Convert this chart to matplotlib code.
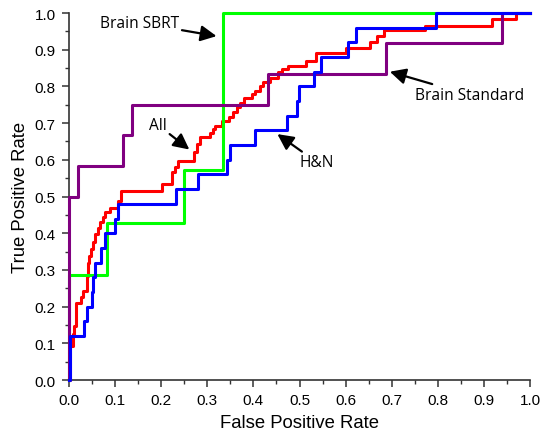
import matplotlib
matplotlib.use("Agg")
import matplotlib.pyplot as plt
from matplotlib.ticker import MultipleLocator

# ROC vertices: (fpr where the curve rises, tpr after the rise)
all_fpr = [0, 0.003, 0.008, 0.010, 0.015, 0.026, 0.030, 0.038, 0.041, 0.043,
           0.048, 0.053, 0.056, 0.062, 0.067, 0.074, 0.079, 0.089, 0.107, 0.113,
           0.201, 0.223, 0.224, 0.230, 0.237, 0.271, 0.277, 0.284, 0.306, 0.313,
           0.317, 0.331, 0.346, 0.356, 0.364, 0.372, 0.380, 0.396, 0.403, 0.414,
           0.421, 0.436, 0.454, 0.461, 0.476, 0.514, 0.536, 0.601, 0.653, 0.669,
           0.683, 0.772, 0.917, 0.970, 1.0]
all_tpr = [0, 0.093, 0.125, 0.148, 0.210, 0.225, 0.243, 0.284, 0.320, 0.339,
           0.357, 0.375, 0.398, 0.413, 0.430, 0.443, 0.457, 0.470, 0.489, 0.516,
           0.534, 0.548, 0.566, 0.580, 0.598, 0.620, 0.643, 0.661, 0.673, 0.684,
           0.693, 0.707, 0.716, 0.729, 0.743, 0.756, 0.768, 0.779, 0.788, 0.800,
           0.811, 0.824, 0.838, 0.847, 0.856, 0.870, 0.890, 0.906, 0.922, 0.938,
           0.954, 0.965, 0.984, 1.0, 1.0]

hn_fpr = [0, 0.003, 0.033, 0.038, 0.050, 0.052, 0.056, 0.069, 0.079, 0.099,
          0.106, 0.233, 0.280, 0.343, 0.349, 0.403, 0.472, 0.495, 0.499, 0.531,
          0.547, 0.606, 0.623, 0.796, 1.0]
hn_tpr = [0, 0.12, 0.16, 0.20, 0.24, 0.28, 0.32, 0.36, 0.40, 0.44,
          0.48, 0.52, 0.56, 0.60, 0.64, 0.68, 0.72, 0.76, 0.80, 0.84,
          0.88, 0.92, 0.96, 1.0, 1.0]

sbrt_fpr = [0, 0, 0.083, 0.250, 0.333, 1.0]
sbrt_tpr = [0, 0.286, 0.429, 0.571, 1.0, 1.0]

std_fpr = [0, 0, 0.020, 0.118, 0.137, 0.431, 0.687, 0.940, 1.0]
std_tpr = [0, 0.500, 0.583, 0.667, 0.750, 0.833, 0.917, 1.0, 1.0]

fig = plt.figure(figsize=(5.42, 4.39), dpi=100)
ax = fig.add_axes([0.1273, 0.1321, 0.8506, 0.8360])

lw = 2.2
ax.step(all_fpr, all_tpr, where="post", color="#ff0000", lw=lw, clip_on=False, zorder=3)
ax.step(sbrt_fpr, sbrt_tpr, where="post", color="#00ff00", lw=lw, clip_on=False, zorder=4)
ax.step(std_fpr, std_tpr, where="post", color="#800080", lw=lw, clip_on=False, zorder=5)
ax.step(hn_fpr, hn_tpr, where="post", color="#0000ff", lw=lw, clip_on=False, zorder=6)

ax.set_xlim(0, 1)
ax.set_ylim(0, 1)
ax.xaxis.set_major_locator(MultipleLocator(0.1))
ax.xaxis.set_minor_locator(MultipleLocator(0.05))
ax.yaxis.set_major_locator(MultipleLocator(0.1))
ax.yaxis.set_minor_locator(MultipleLocator(0.05))
ax.xaxis.set_major_formatter(plt.FormatStrFormatter("%.1f"))
ax.yaxis.set_major_formatter(plt.FormatStrFormatter("%.1f"))

for side in ("top", "right"):
    ax.spines[side].set_visible(False)
for side in ("left", "bottom"):
    ax.spines[side].set_linewidth(1.2)
    ax.spines[side].set_color("#333333")

ax.tick_params(which="major", direction="out", length=5, width=1.1, color="#333333",
               labelsize=11, pad=4.5)
ax.tick_params(which="minor", direction="out", length=3, width=1.0, color="#333333")
for lab in ax.get_xticklabels() + ax.get_yticklabels():
    lab.set_family("Liberation Sans")

ax.set_xlabel("False Positive Rate", fontsize=13.3, family="Liberation Sans", labelpad=5)
ax.set_ylabel("True Positive Rate", fontsize=13.3, family="Liberation Sans", labelpad=4)

arrow = dict(arrowstyle="-|>", color="black", lw=1.6, mutation_scale=24, shrinkA=0, shrinkB=0)
note_font = dict(fontsize=11.2, family="Open Sans", va="center")
ax.annotate("Brain SBRT", xy=(0.320, 0.937), xytext=(0.239, 0.973), ha="right",
            arrowprops=arrow, **note_font)
ax.annotate("All", xy=(0.261, 0.628), xytext=(0.193, 0.695), ha="center",
            arrowprops=arrow, **note_font)
ax.annotate("H&N", xy=(0.452, 0.670), xytext=(0.538, 0.593), ha="center",
            arrowprops=arrow, **note_font)
ax.annotate("Brain Standard", xy=(0.696, 0.840), xytext=(0.868, 0.777), ha="center",
            arrowprops=arrow, **note_font)

fig.savefig("out.png", dpi=100)
